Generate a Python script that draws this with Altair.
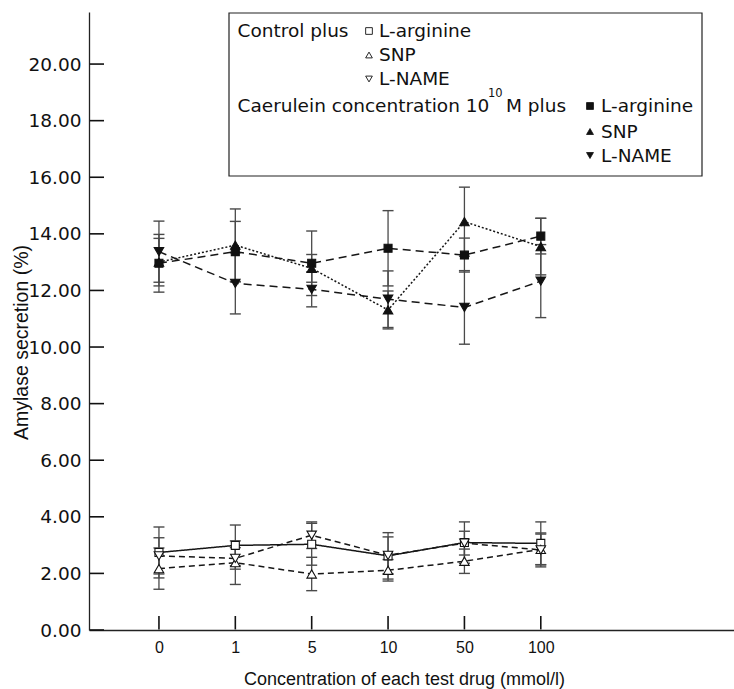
import altair as alt
import pandas as pd

# ---------------- data ----------------
conc_labels = ["0", "1", "5", "10", "50", "100"]
positions = [0, 1, 2, 3, 4, 5]

ctrl_larg_mean = [2.74, 2.99, 3.03, 2.62, 3.09, 3.06]
ctrl_larg_sd = [0.90, 0.72, 0.74, 0.82, 0.73, 0.76]
ctrl_snp_mean = [2.17, 2.38, 1.98, 2.11, 2.43, 2.85]
ctrl_snp_sd = [0.73, 0.77, 0.59, 0.38, 0.43, 0.54]
ctrl_lname_mean = [2.62, 2.53, 3.35, 2.64, 3.07, 2.83]
ctrl_lname_sd = [0.64, 0.38, 0.47, 0.65, 0.42, 0.60]

cae_larg_mean = [12.96, 13.37, 12.96, 13.49, 13.25, 13.92]
cae_larg_sd = [1.02, 1.07, 1.14, 1.33, 0.60, 0.63]
cae_snp_mean = [13.00, 13.60, 12.78, 11.31, 14.43, 13.55]
cae_snp_sd = [0.84, 1.28, 0.49, 0.67, 1.22, 1.00]
cae_lname_mean = [13.37, 12.25, 12.04, 11.69, 11.40, 12.33]
cae_lname_sd = [1.08, 1.08, 0.62, 1.00, 1.30, 1.29]

y_ticks = [0, 2, 4, 6, 8, 10, 12, 14, 16, 18, 20]

# series styling: name, means, sds, shape, filled, dash
series = [
    ("ctrl_larg", ctrl_larg_mean, ctrl_larg_sd, "square", False, [1, 0]),
    ("ctrl_snp", ctrl_snp_mean, ctrl_snp_sd, "triangle-up", False, [6, 4]),
    ("ctrl_lname", ctrl_lname_mean, ctrl_lname_sd, "triangle-down", False, [6, 4]),
    ("cae_larg", cae_larg_mean, cae_larg_sd, "square", True, [8, 5]),
    ("cae_snp", cae_snp_mean, cae_snp_sd, "triangle-up", True, [2, 2]),
    ("cae_lname", cae_lname_mean, cae_lname_sd, "triangle-down", True, [8, 5]),
]

W, H = 645, 618
OX, OY = 89, 12  # plot origin in page pixels
X_DOMAIN = [-0.916, 7.53]
Y_DOMAIN = [0, 21.84]
LINE = "#161616"
ERR = "#4a4a4a"
AXC = "#111111"

# tick lengths expressed in data units of the two scales (inward ticks)
x_tick_len = 14 * (Y_DOMAIN[1] - Y_DOMAIN[0]) / H
y_tick_len = 15 * (X_DOMAIN[1] - X_DOMAIN[0]) / W

rows = []
for name, means, sds, *_ in series:
    for p, m, s in zip(positions, means, sds):
        rows.append({"series": name, "pos": p, "mean": m, "lo": m - s, "hi": m + s})
for p in positions:
    rows.append({"series": "xtick", "pos": p, "t0": Y_DOMAIN[0] + 0.02, "t1": Y_DOMAIN[0] + x_tick_len})
for v in y_ticks:
    rows.append({"series": "ytick", "tv": v, "a0": X_DOMAIN[0] + 0.01, "a1": X_DOMAIN[0] + y_tick_len})
df = pd.DataFrame(rows)

label_expr = "[" + ",".join("'%s'" % l for l in conc_labels) + "][datum.value]"

xscale = alt.Scale(domain=X_DOMAIN, nice=False, zero=False)
yscale = alt.Scale(domain=Y_DOMAIN, nice=False, zero=True)

xaxis = alt.Axis(
    values=positions,
    labelExpr=label_expr,
    ticks=False,
    grid=False,
    domainColor="#222222",
    domainWidth=1.3,
    labelFont="Liberation Sans",
    labelFontSize=16,
    labelColor="#111111",
    labelPadding=9,
    title="Concentration of each test drug (mmol/l)",
    titleFont="Liberation Sans",
    titleFontSize=18,
    titleFontWeight="normal",
    titleColor="#111111",
    titleBaseline="alphabetic",
    titleAlign="center",
    titleX=404 - OX,
    titleY=54,
)

yaxis = alt.Axis(
    values=y_ticks,
    format=".2f",
    ticks=False,
    grid=False,
    domainColor="#222222",
    domainWidth=1.3,
    labelFont="DejaVu Sans",
    labelFontSize=18.5,
    labelColor="#111111",
    labelPadding=8,
    title="Amylase secretion (%)",
    titleFont="Liberation Sans",
    titleFontSize=19.5,
    titleFontWeight="normal",
    titleColor="#111111",
    titleX=21 - OX,
    titleY=342 - OY,
    titleBaseline="middle",
    titleAlign="center",
)

base = alt.Chart(df)

layers = []

# error bars (first layer carries the axes)
first = True
for name, *_ in series:
    sub = base.transform_filter(alt.datum.series == name)
    if first:
        xe = alt.X("pos:Q", scale=xscale, axis=xaxis)
        ye = alt.Y("lo:Q", scale=yscale, axis=yaxis)
        first = False
    else:
        xe = alt.X("pos:Q", scale=xscale)
        ye = alt.Y("lo:Q", scale=yscale)
    layers.append(
        sub.mark_rule(color=ERR, strokeWidth=1.3).encode(x=xe, y=ye, y2="hi:Q")
    )
    for f in ["lo", "hi"]:
        layers.append(
            sub.mark_point(shape="stroke", size=121, color=ERR, strokeWidth=1.4, opacity=1).encode(
                x=alt.X("pos:Q", scale=xscale),
                y=alt.Y(f + ":Q", scale=yscale),
            )
        )

# inward axis ticks
layers.append(
    base.transform_filter(alt.datum.series == "xtick").mark_rule(
        color=AXC, strokeWidth=1.6, opacity=1
    ).encode(
        x=alt.X("pos:Q", scale=xscale),
        y=alt.Y("t0:Q", scale=yscale),
        y2="t1:Q",
    )
)
layers.append(
    base.transform_filter(alt.datum.series == "ytick").mark_rule(
        color=AXC, strokeWidth=1.6, opacity=1
    ).encode(
        y=alt.Y("tv:Q", scale=yscale),
        x=alt.X("a0:Q", scale=xscale),
        x2="a1:Q",
    )
)

# lines
for name, means, sds, shape, filled, dash in series:
    sub = base.transform_filter(alt.datum.series == name)
    layers.append(
        sub.mark_line(color=LINE, strokeWidth=1.5, strokeDash=dash).encode(
            x=alt.X("pos:Q", scale=xscale),
            y=alt.Y("mean:Q", scale=yscale),
        )
    )

# markers
for name, means, sds, shape, filled, dash in series:
    sub = base.transform_filter(alt.datum.series == name)
    sz = 64 if shape == "square" else 90
    layers.append(
        sub.mark_point(
            shape=shape,
            size=sz,
            filled=True,
            fill="#111111" if filled else "white",
            stroke="#111111",
            strokeWidth=1.1,
            opacity=1,
        ).encode(
            x=alt.X("pos:Q", scale=xscale),
            y=alt.Y("mean:Q", scale=yscale),
        )
    )

# ---------------- custom legend ----------------
LFONT = "DejaVu Sans"
LSIZE = 18.5

legend_box = alt.Chart(pd.DataFrame({"a": [0]})).mark_rect(
    fill="white", stroke="#222222", strokeWidth=1.2
).encode(
    x=alt.value(229 - OX), x2=alt.value(702 - OX),
    y=alt.value(13 - OY), y2=alt.value(176 - OY),
)
layers.append(legend_box)

legend_items = [
    ("Control plus", 237.5, 31),
    ("Caerulein concentration 10", 237.5, 106),
    ("M plus", 506, 106),
]
for txt, xp, yp in legend_items:
    layers.append(
        alt.Chart(pd.DataFrame({"t": [txt]})).mark_text(
            font=LFONT, fontSize=LSIZE, align="left", baseline="middle", color="#111111"
        ).encode(text="t:N", x=alt.value(xp - OX), y=alt.value(yp - OY))
    )
# superscript
layers.append(
    alt.Chart(pd.DataFrame({"t": ["10"]})).mark_text(
        font=LFONT, fontSize=11.5, align="left", baseline="middle", color="#111111"
    ).encode(text="t:N", x=alt.value(488 - OX), y=alt.value(94 - OY))
)

legend_labels = ["L-arginine", "SNP", "L-NAME"]
legend_shapes = ["square", "triangle-up", "triangle-down"]
ctrl_rows_y = [31, 55, 79]
cae_rows_y = [106, 131.5, 155.5]
for lab, shp, yc in zip(legend_labels, legend_shapes, ctrl_rows_y):
    layers.append(
        alt.Chart(pd.DataFrame({"t": [lab]})).mark_text(
            font=LFONT, fontSize=LSIZE, align="left", baseline="middle", color="#111111"
        ).encode(text="t:N", x=alt.value(379 - OX), y=alt.value(yc - OY))
    )
    layers.append(
        alt.Chart(pd.DataFrame({"a": [0]})).mark_point(
            shape=shp, size=45, filled=True, fill="white", stroke="#111111", strokeWidth=0.9, opacity=1
        ).encode(x=alt.value(369 - OX), y=alt.value(yc - OY))
    )
for lab, shp, yc in zip(legend_labels, legend_shapes, cae_rows_y):
    layers.append(
        alt.Chart(pd.DataFrame({"t": [lab]})).mark_text(
            font=LFONT, fontSize=LSIZE, align="left", baseline="middle", color="#111111"
        ).encode(text="t:N", x=alt.value(601 - OX), y=alt.value(yc - OY))
    )
    layers.append(
        alt.Chart(pd.DataFrame({"a": [0]})).mark_point(
            shape=shp, size=48, filled=True, fill="#111111", stroke="#111111", strokeWidth=0.8, opacity=1
        ).encode(x=alt.value(590 - OX), y=alt.value(yc - OY))
    )

chart = alt.layer(*layers).properties(
    width=W,
    height=H,
    autosize=alt.AutoSizeParams(type="none"),
    padding={"left": OX, "top": OY, "right": 0, "bottom": 689 - OY - H},
    background="white",
).configure_view(stroke=None)

chart.save("out.html", embed_options={"renderer": "svg", "actions": False})
